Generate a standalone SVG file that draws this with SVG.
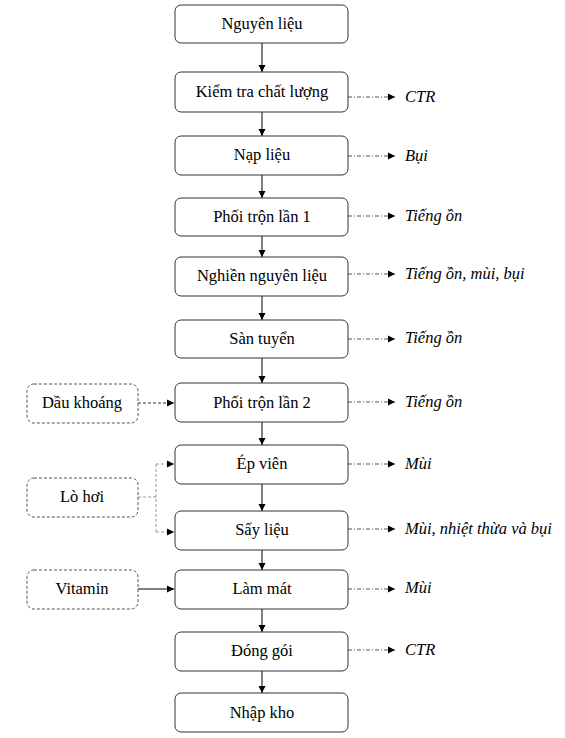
<svg xmlns="http://www.w3.org/2000/svg" width="565" height="738" viewBox="0 0 565 738">
<defs>
<marker id="ah" markerWidth="8" markerHeight="8" refX="7" refY="4" orient="auto" markerUnits="userSpaceOnUse">
<path d="M0,0.5 L7,4 L0,7.5 Z" fill="#000"/>
</marker>
<style>
.box{fill:#fff;stroke:#333;stroke-width:1}
.dbox{fill:#fff;stroke:#555;stroke-width:1;stroke-dasharray:3,2}
text{font-family:'Liberation Serif','DejaVu Serif','Times New Roman',serif;font-size:16.5px;fill:#000}
.t{text-anchor:middle}
.o{font-style:italic}
.flow{stroke:#000;stroke-width:1;fill:none;marker-end:url(#ah)}
.out{stroke:#555;stroke-width:1;fill:none;stroke-dasharray:4,2,1,2;marker-end:url(#ah)}
.in{stroke:#333;stroke-width:1;fill:none;stroke-dasharray:3,2;marker-end:url(#ah)}
.steam{stroke:#999;stroke-width:1;fill:none;stroke-dasharray:3,2}
</style>
</defs>
<g id="connectors">
<line class="flow" x1="262" y1="43" x2="262" y2="72"/>
<line class="flow" x1="262" y1="112" x2="262" y2="136"/>
<line class="flow" x1="262" y1="175" x2="262" y2="198"/>
<line class="flow" x1="262" y1="236" x2="262" y2="257"/>
<line class="flow" x1="262" y1="296" x2="262" y2="320"/>
<line class="flow" x1="262" y1="358" x2="262" y2="383"/>
<line class="flow" x1="262" y1="422" x2="262" y2="445"/>
<line class="flow" x1="262" y1="484" x2="262" y2="511"/>
<line class="flow" x1="262" y1="550" x2="262" y2="570"/>
<line class="flow" x1="262" y1="609" x2="262" y2="632"/>
<line class="flow" x1="262" y1="671" x2="262" y2="693"/>
<line class="out" x1="348" y1="97" x2="395" y2="97"/>
<line class="out" x1="348" y1="156" x2="395" y2="156"/>
<line class="out" x1="348" y1="216" x2="395" y2="216"/>
<line class="out" x1="348" y1="274" x2="395" y2="274"/>
<line class="out" x1="348" y1="339" x2="395" y2="339"/>
<line class="out" x1="348" y1="402" x2="395" y2="402"/>
<line class="out" x1="348" y1="464" x2="395" y2="464"/>
<line class="out" x1="348" y1="529" x2="395" y2="529"/>
<line class="out" x1="348" y1="589" x2="395" y2="589"/>
<line class="out" x1="348" y1="650" x2="395" y2="650"/>
<line class="in" x1="138" y1="403" x2="174" y2="403"/>
<path class="steam" d="M138,497 H156 M156,464 V532"/>
<line class="in" x1="156" y1="464" x2="174" y2="464" style="stroke:#999"/>
<line class="in" x1="156" y1="532" x2="174" y2="532" style="stroke:#999"/>
<line class="flow" x1="138" y1="589" x2="174" y2="589"/>
</g>
<g id="n1"><rect class="box" x="175" y="5" width="173" height="38" rx="6"/><text class="t" x="262" y="29">Nguyên liệu</text></g>
<g id="n2"><rect class="box" x="175" y="72" width="173" height="40" rx="6"/><text class="t" x="262" y="97">Kiểm tra chất lượng</text></g>
<g id="n3"><rect class="box" x="175" y="136" width="173" height="39" rx="6"/><text class="t" x="262" y="160">Nạp liệu</text></g>
<g id="n4"><rect class="box" x="175" y="198" width="173" height="38" rx="6"/><text class="t" x="262" y="222">Phối trộn lần 1</text></g>
<g id="n5"><rect class="box" x="175" y="257" width="173" height="39" rx="6"/><text class="t" x="262" y="281">Nghiền nguyên liệu</text></g>
<g id="n6"><rect class="box" x="175" y="320" width="173" height="38" rx="6"/><text class="t" x="262" y="344">Sàn tuyển</text></g>
<g id="n7"><rect class="box" x="175" y="383" width="173" height="39" rx="6"/><text class="t" x="262" y="408">Phối trộn lần 2</text></g>
<g id="n8"><rect class="box" x="175" y="445" width="173" height="39" rx="6"/><text class="t" x="262" y="469">Ép viên</text></g>
<g id="n9"><rect class="box" x="175" y="511" width="173" height="39" rx="6"/><text class="t" x="262" y="535">Sấy liệu</text></g>
<g id="n10"><rect class="box" x="175" y="570" width="173" height="39" rx="6"/><text class="t" x="262" y="594">Làm mát</text></g>
<g id="n11"><rect class="box" x="175" y="632" width="173" height="39" rx="6"/><text class="t" x="262" y="656">Đóng gói</text></g>
<g id="n12"><rect class="box" x="175" y="693" width="173" height="39" rx="6"/><text class="t" x="262" y="718">Nhập kho</text></g>
<g id="d1"><rect class="dbox" x="27" y="384" width="111" height="39" rx="7"/><text class="t" x="82" y="408">Dầu khoáng</text></g>
<g id="d2"><rect class="dbox" x="27" y="478" width="111" height="39" rx="7"/><text class="t" x="82" y="502">Lò hơi</text></g>
<g id="d3"><rect class="dbox" x="27" y="570" width="111" height="39" rx="7"/><text class="t" x="82" y="594">Vitamin</text></g>
<g id="outputs">
<text class="o" x="405" y="102">CTR</text>
<text class="o" x="405" y="161">Bụi</text>
<text class="o" x="405" y="221">Tiếng ồn</text>
<text class="o" x="405" y="279">Tiếng ồn, mùi, bụi</text>
<text class="o" x="405" y="343">Tiếng ồn</text>
<text class="o" x="405" y="407">Tiếng ồn</text>
<text class="o" x="405" y="469">Mùi</text>
<text class="o" x="405" y="534">Mùi, nhiệt thừa và bụi</text>
<text class="o" x="405" y="593">Mùi</text>
<text class="o" x="405" y="655">CTR</text>
</g>
</svg>
